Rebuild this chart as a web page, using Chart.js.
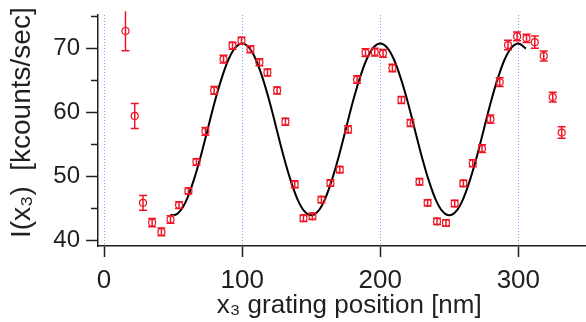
<!DOCTYPE html>
<html>
<head>
<meta charset="utf-8">
<script src="https://cdn.jsdelivr.net/npm/chart.js@4.4.1/dist/chart.umd.min.js"></script>
<style>
  body { margin: 0; background: #fff; }
  canvas { display: block; }
</style>
</head>
<body>
<canvas id="chart" width="586" height="322"></canvas>
<script>
// measured points (x3 position in nm, intensity in kcounts/sec, error)
const xPos = [15.5, 22.2, 28.2, 34.8, 41.5, 48.1, 54.3, 61.1, 66.9, 73.4,
	79.7, 86.5, 93.0, 99.5, 106.0, 112.5, 118.3, 125.3, 131.3, 138.1,
	144.4, 150.9, 157.4, 163.9, 170.7, 176.7, 183.2, 189.3, 196.0, 202.0,
	208.8, 215.3, 221.9, 228.4, 234.3, 241.1, 247.6, 253.9, 260.2, 267.0,
	273.7, 279.8, 286.5, 292.5, 299.1, 305.9, 311.9, 318.4, 324.9, 331.4];
const counts = [72.7, 59.4, 45.8, 42.7, 41.25, 43.2, 45.45, 47.65, 52.2, 57.0,
	63.4, 68.3, 70.4, 71.2, 69.85, 67.8, 66.2, 63.4, 58.5, 48.7,
	43.4, 43.7, 46.3, 48.9, 51.0, 57.3, 65.1, 69.3, 69.4, 69.2,
	66.9, 61.9, 58.3, 49.1, 45.8, 42.9, 42.65, 45.7, 48.85, 52.0,
	54.3, 58.9, 64.7, 70.5, 71.85, 71.55, 70.95, 68.8, 62.35, 56.8];
const errs = [3.1, 1.95, 1.15, 0.65, 0.6, 0.58, 0.52, 0.48, 0.5, 0.6,
	0.6, 0.6, 0.55, 0.52, 0.55, 0.55, 0.55, 0.55, 0.55, 0.55,
	0.5, 0.5, 0.5, 0.5, 0.5, 0.55, 0.6, 0.6, 0.6, 0.6,
	0.6, 0.55, 0.55, 0.5, 0.5, 0.5, 0.5, 0.5, 0.5, 0.55,
	0.6, 0.65, 0.68, 0.73, 0.68, 0.65, 0.95, 0.78, 0.78, 0.9];

// fitted curve
const fitX = [48, 50, 55, 60, 65, 70, 75, 80, 85, 90, 95, 100, 105, 110, 115, 120,
	125, 130, 135, 140, 145, 150, 155, 160, 165, 170, 175, 180, 185, 190, 195, 200,
	205, 210, 215, 220, 225, 230, 235, 240, 245, 250, 255, 260, 265, 270, 275, 280,
	285, 290, 295, 300, 305.5];
const fitY = [43.95, 43.85, 44.5, 46.4, 49.4, 53.1, 57.3, 61.5, 65.2, 68.2, 70.1, 70.75,
	70.1, 68.2, 65.2, 61.5, 57.3, 53.1, 49.4, 46.4, 44.5, 43.85, 44.5, 46.4, 49.4,
	53.1, 57.3, 61.5, 65.2, 68.2, 70.1, 70.75, 70.1, 68.2, 65.2, 61.5, 57.3, 53.1,
	49.4, 46.4, 44.5, 43.85, 44.5, 46.4, 49.4, 53.1, 57.3, 61.5, 65.2, 68.2, 70.1,
	70.75, 69.95];

const xTicks = [0, 100, 200, 300];
const yTicks = [40, 45, 50, 55, 60, 65, 70, 75];

const red = 'rgb(240,20,35)';
const ink = '#231f20';

const errorBars = {
	id: 'errorBars',
	afterDatasetsDraw(chart) {
		const ctx = chart.ctx;
		const xs = chart.scales.x, ys = chart.scales.y;
		const area = chart.chartArea;
		ctx.save();
		ctx.strokeStyle = red;
		ctx.lineWidth = 1.5;
		xPos.forEach((x, i) => {
			const px = xs.getPixelForValue(x);
			const top = ys.getPixelForValue(counts[i] + errs[i]);
			const bot = ys.getPixelForValue(counts[i] - errs[i]);
			ctx.beginPath();
			ctx.moveTo(px, top);
			ctx.lineTo(px, bot);
			if (top >= area.top) {
				ctx.moveTo(px - 4, top);
				ctx.lineTo(px + 4, top);
			}
			ctx.moveTo(px - 4, bot);
			ctx.lineTo(px + 4, bot);
			ctx.stroke();
		});
		ctx.restore();
	}
};

// left axis tick marks: long on labelled values, short in between
const yTickMarks = {
	id: 'yTickMarks',
	afterDraw(chart) {
		const ctx = chart.ctx;
		const ys = chart.scales.y;
		const x0 = chart.chartArea.left;
		ctx.save();
		ctx.strokeStyle = ink;
		ctx.lineWidth = 1.5;
		yTicks.forEach(v => {
			const py = Math.round(ys.getPixelForValue(v)) + 0.5;
			const len = v % 10 === 0 ? 12 : 7;
			ctx.beginPath();
			ctx.moveTo(x0 - len, py);
			ctx.lineTo(x0, py);
			ctx.stroke();
		});
		ctx.restore();
	}
};

let data = {
	datasets: [{
		type: 'scatter',
		data: xPos.map((x, i) => ({ x: x, y: counts[i] })),
		pointStyle: 'circle',
		pointRadius: 3.5,
		pointBorderWidth: 1.2,
		pointBorderColor: red,
		pointBackgroundColor: 'rgba(0,0,0,0)',
		clip: false,
		order: 1
	}, {
		type: 'line',
		data: fitX.map((x, i) => ({ x: x, y: fitY[i] })),
		borderColor: '#000',
		borderWidth: 2,
		pointRadius: 0,
		cubicInterpolationMode: 'monotone',
		fill: false,
		order: 2
	}]
};

let options = {
	responsive: false,
	animation: false,
	layout: {
		autoPadding: false,
		padding: { top: 15, right: 0, left: 0, bottom: 0 }
	},
	plugins: {
		legend: { display: false },
		tooltip: { enabled: false }
	},
	scales: {
		x: {
			type: 'linear',
			min: -4.4,
			max: 349,
			afterBuildTicks: s => { s.ticks = xTicks.map(v => ({ value: v })); },
			afterFit: s => {
				s.height = 76;
				s.paddingLeft = 0;
				s.paddingRight = 0;
			},
			grid: {
				color: '#7f9cff',
				lineWidth: 1,
				drawTicks: true,
				tickLength: 11,
				tickColor: ink,
				tickWidth: 1.5
			},
			border: { display: true, color: ink, width: 1.5, dash: [1, 2] },
			ticks: {
				autoSkip: false,
				maxRotation: 0,
				padding: 8,
				color: ink,
				font: { family: 'Liberation Sans', size: 26 }
			},
			title: {
				display: true,
				text: '  x₃ grating position [nm]',
				color: ink,
				padding: { top: 0, bottom: 1 },
				font: { family: 'Liberation Sans', size: 26 }
			}
		},
		y: {
			min: 39.05,
			max: 75.2,
			afterBuildTicks: s => { s.ticks = yTicks.map(v => ({ value: v })); },
			afterFit: s => {
				s.width = 98;
				s.paddingTop = 0;
				s.paddingBottom = 0;
			},
			grid: { display: false, drawTicks: true, tickLength: 12 },
			border: { display: true, color: ink, width: 1.5 },
			ticks: {
				autoSkip: false,
				padding: 6,
				color: ink,
				font: { family: 'Liberation Sans', size: 24 },
				callback: v => (v % 10 === 0 ? String(v) : '')
			},
			title: {
				display: true,
				text: '  I(x₃)  [kcounts/sec]',
				color: ink,
				padding: { top: 5, bottom: 0 },
				font: { family: 'Liberation Sans', size: 28 }
			}
		}
	}
};

new Chart(document.getElementById('chart').getContext('2d'), {
	data: data,
	options: options,
	plugins: [errorBars, yTickMarks]
});
</script>
</body>
</html>
